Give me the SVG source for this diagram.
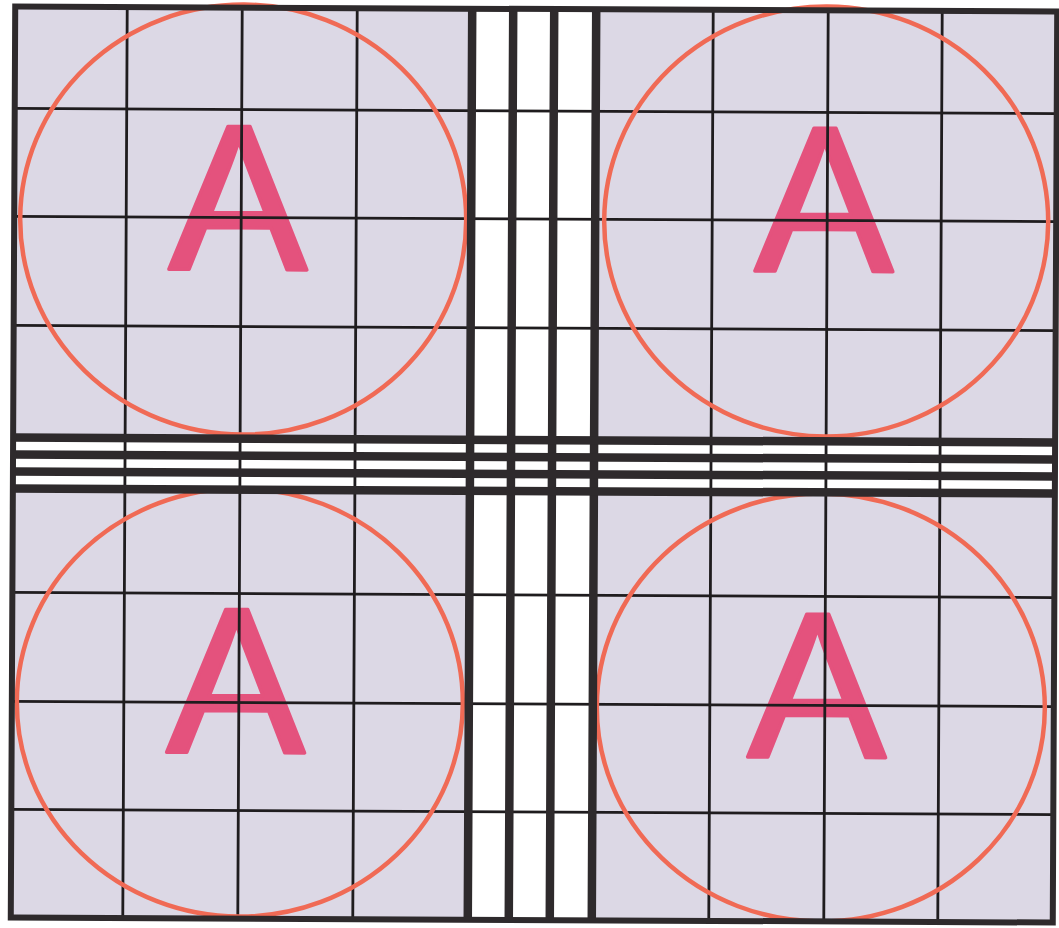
<svg xmlns="http://www.w3.org/2000/svg" width="1059" height="928" viewBox="0 0 1059 928">
<style>
.quad{fill:#dcd8e5}
.letter{font-family:"Liberation Sans",Arial,sans-serif;font-size:208px;fill:#e4527d;stroke:#e4527d;stroke-width:3.5;stroke-linejoin:round;text-anchor:middle}
.grid{stroke:#1f1c1e;stroke-width:2.8;fill:none}
.ring{stroke:#f06a55;stroke-width:4.5;fill:none}
.bar{stroke:#2e2a2c;stroke-width:8.5;fill:none}
.border{stroke:#2e2a2c;stroke-width:6;fill:none}
</style>
<rect width="1059" height="928" fill="#ffffff"/>
<g transform="rotate(0.28 533 464)">
  <g id="quad-top-left">
    <rect class="quad" x="13" y="9" width="457" height="431"/>
    <text class="letter" x="237" y="271">A</text>
  </g>
  <g id="quad-top-right">
    <rect class="quad" x="594" y="9" width="461" height="431"/>
    <text class="letter" x="823" y="270">A</text>
  </g>
  <g id="quad-bottom-left">
    <rect class="quad" x="13" y="491" width="457" height="429"/>
    <text class="letter" x="237" y="754">A</text>
  </g>
  <g id="quad-bottom-right">
    <rect class="quad" x="594" y="491" width="461" height="429"/>
    <text class="letter" x="818" y="756">A</text>
  </g>
  <g id="grid">
    <path class="grid" d="M125 9V920M240 9V920M355 9V920M711 9V920M826 9V920M940 9V920"/>
    <path class="grid" d="M13 111H1055M13 219H1055M13 328H1055M13 595H1055M13 704H1055M13 812H1055"/>
  </g>
  <g id="circles">
    <ellipse class="ring" cx="242" cy="221" rx="223" ry="215"/>
    <ellipse class="ring" cx="825" cy="220" rx="222" ry="215"/>
    <ellipse class="ring" cx="241" cy="704" rx="223" ry="214"/>
    <ellipse class="ring" cx="822" cy="706" rx="224" ry="214"/>
  </g>
  <g id="strips">
    <path class="bar" d="M470 9V920M511 9V920M552 9V920M594 9V920"/>
    <path class="bar" d="M13 440H1055M13 457H1055M13 474H1055M13 491H1055"/>
  </g>
  <rect class="border" x="13" y="9" width="1042" height="911"/>
</g>
</svg>
